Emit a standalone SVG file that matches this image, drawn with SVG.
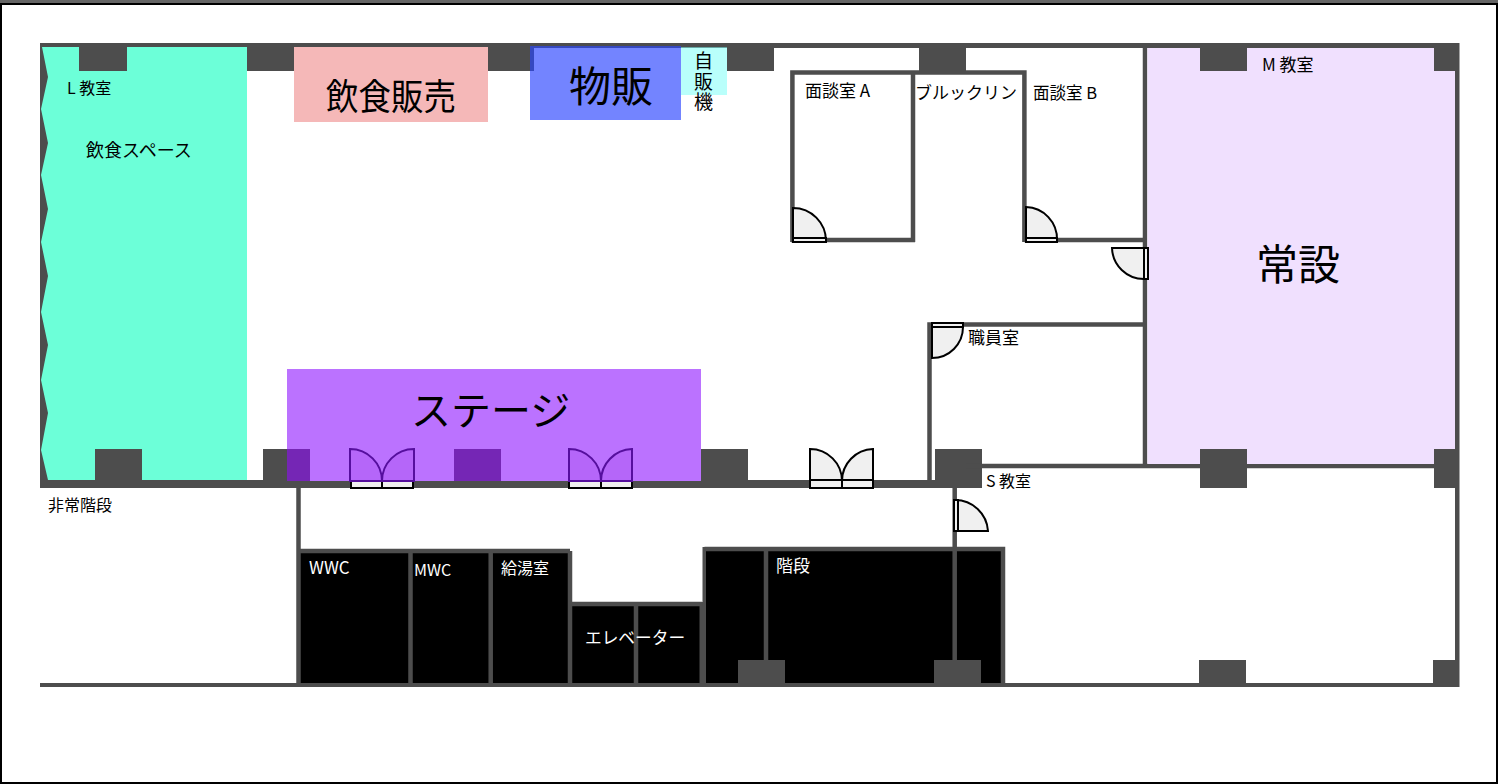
<svg xmlns="http://www.w3.org/2000/svg" width="1498" height="784" viewBox="0 0 1498 784">
<style>
.w{fill:#4d4d4d}
.l{fill:none;stroke:#4d4d4d;stroke-width:4.5}
.d{fill:#f0f0f0;stroke:#000;stroke-width:2}
.p{fill:#b566f9;stroke:#560f9e;stroke-width:2}
.t{font-family:"Noto Sans CJK JP","Liberation Sans",sans-serif;fill:#000}
.s{font-size:17px}
.m{font-size:16px}
.wt{fill:#fff}
</style>
<rect width="1498" height="784" fill="#fff"/>
<rect x="0" y="0" width="1498" height="3" fill="#666"/>
<path d="M1 4H1497V783H1V4Z" fill="none" stroke="#000" stroke-width="2"/>

<g id="blackrooms">
<rect x="300" y="551" width="270" height="134"/>
<rect x="570" y="604" width="130" height="81"/>
<rect x="705" y="549" width="298" height="136"/>
</g>
<g id="walls">
<rect class="w" x="40" y="43" width="1419" height="5"/>
<rect class="w" x="40" y="43" width="8" height="445"/>
<rect class="w" x="1455" y="43" width="4.500" height="644"/>
<rect class="w" x="40" y="480" width="915" height="8"/>
<rect class="w" x="40" y="683" width="1419" height="4"/>
<rect class="w" x="79" y="47" width="48" height="24"/>
<rect class="w" x="247" y="47" width="47" height="24"/>
<rect class="w" x="487" y="47" width="47" height="24"/>
<rect class="w" x="727" y="47" width="47" height="24"/>
<rect class="w" x="919" y="47" width="47" height="24"/>
<rect class="w" x="263" y="449" width="47" height="39"/>
<rect class="w" x="701" y="449" width="47" height="39"/>
<rect class="w" x="935" y="449" width="47" height="39"/>
<rect class="w" x="738" y="660" width="47" height="25"/>
<rect class="w" x="934" y="660" width="47" height="25"/>
<rect class="w" x="1199" y="660" width="47" height="25"/>
<rect class="w" x="1433" y="660" width="26" height="25"/>
<path class="l" d="M792.400 242V72.500H913V242M791 240H915M1024.400 242V72.500H913M1024.400 240H1145M1145 47V467M929.500 483V324.500H1145M966 466H1455M298.500 488V685M298.500 551H570M410.500 551V685M490.700 551V685M570 551V685M570 604H702M636 604V685M766 549V660M954.700 488V660M1003 685V549H704.500"/>
<rect class="w" x="699.500" y="602" width="6.500" height="83"/>
<rect class="w" x="702.500" y="547" width="3.500" height="60"/>
</g>

<g id="zones">
<path id="inshoku-space" d="M42 47H79V71H127V47H247V480H48L41 450L48 413L41 380L48 345L41 312L48 276L41 242L48 209L41 175L48 143L41 109L48 77Z" fill="#6cffd8"/>
<rect class="w" x="95" y="449" width="47" height="39"/>
<rect x="294" y="47" width="194" height="75" fill="#f5b8b8"/>
<rect x="530" y="46" width="151" height="74" fill="#7384ff"/>
<rect x="530" y="46" width="4" height="25" fill="#3548c0"/>
<rect x="530" y="46" width="151" height="2" fill="#3548c0"/>
<rect x="681" y="47" width="46" height="48" fill="#b9fffb"/>
<rect x="681" y="47" width="46" height="1" fill="#66a8a5"/>
<rect x="1147.500" y="48" width="307.500" height="416" fill="#f0e0fe"/>
<rect class="w" x="1200" y="47" width="47" height="24"/>
<rect class="w" x="1434" y="47" width="25" height="24"/>
<rect class="w" x="1200" y="449" width="47" height="39"/>
<rect class="w" x="1434" y="449" width="25" height="39"/>
</g>

<g id="doors">
<g id="door-a"><path class="d" d="M793 208A33 33 0 0 1 826 241H793Z"/><rect class="d" x="793" y="238" width="33" height="4"/></g>
<g id="door-b"><path class="d" d="M1026 207A32 32 0 0 1 1057 240H1026Z"/><rect class="d" x="1026" y="238" width="31" height="4"/></g>
<g id="door-c"><path class="d" d="M1112 248A32 32 0 0 0 1144 279V248Z"/><rect class="d" x="1144" y="248" width="4" height="31"/></g>
<g id="door-d"><path class="d" d="M932 358A31 31 0 0 0 963 327H932Z"/><rect class="d" x="932" y="323" width="31" height="4"/></g>
<g id="door-e"><path class="d" d="M955 500A33 33 0 0 1 988 531H955Z"/><rect class="d" x="954" y="500" width="4" height="31"/></g>
<g id="door-f"><path class="d" d="M810 449A32 32 0 0 1 842 481H810ZM873 449A32 32 0 0 0 842 481H873Z"/><rect class="d" x="810" y="480" width="32" height="8"/><rect class="d" x="842" y="480" width="31" height="8"/></g>
</g>

<g id="stage">
<rect x="287" y="369" width="414" height="112" fill="#bb72ff"/>
<rect x="287" y="449" width="23" height="32" fill="#7526b5"/>
<rect x="454" y="449" width="47" height="32" fill="#7526b5"/>
<rect class="w" x="287" y="481" width="414" height="7"/>
<g id="door-g"><rect class="d" x="351" y="480" width="31" height="8"/><rect class="d" x="382" y="480" width="31" height="8"/><path class="p" d="M350 449A32 32 0 0 1 382 481H350ZM414 449A32 32 0 0 0 382 481H414Z"/></g>
<g id="door-h"><rect class="d" x="569" y="480" width="32" height="8"/><rect class="d" x="601" y="480" width="31" height="8"/><path class="p" d="M569 449A32 32 0 0 1 601 481H569ZM632 449A32 32 0 0 0 601 481H632Z"/></g>
</g>

<g id="labels">
<text class="t m" x="67" y="94">L 教室</text>
<text class="t" x="86" y="157" font-size="18">飲食スペース</text>
<text class="t" transform="translate(326 110) scale(1 1.12)" font-size="32.500">飲食販売</text>
<text class="t" x="569" y="102" font-size="42">物販</text>
<text class="t" font-size="19"><tspan x="694" y="68">自</tspan><tspan x="694" y="89">販</tspan><tspan x="694" y="109">機</tspan></text>
<text class="t s" x="805" y="97">面談室 A</text>
<text class="t s" x="915" y="99">ブルックリン</text>
<text class="t" font-size="16.500" x="1033" y="99">面談室 B</text>
<text class="t s" x="1262" y="71">M 教室</text>
<text class="t" x="1256" y="280" font-size="42">常設</text>
<text class="t s" x="968" y="344">職員室</text>
<text class="t" x="411" y="425" font-size="40">ステージ</text>
<text class="t m" x="986" y="487">S 教室</text>
<text class="t m" x="48" y="511">非常階段</text>
<text class="t s wt" x="309" y="574">WWC</text>
<text class="t m wt" x="414" y="576">MWC</text>
<text class="t m wt" x="501" y="574">給湯室</text>
<text class="t s wt" x="776" y="572">階段</text>
<text class="t wt" font-size="16.700" x="585" y="644">エレベーター</text>
</g>
</svg>
